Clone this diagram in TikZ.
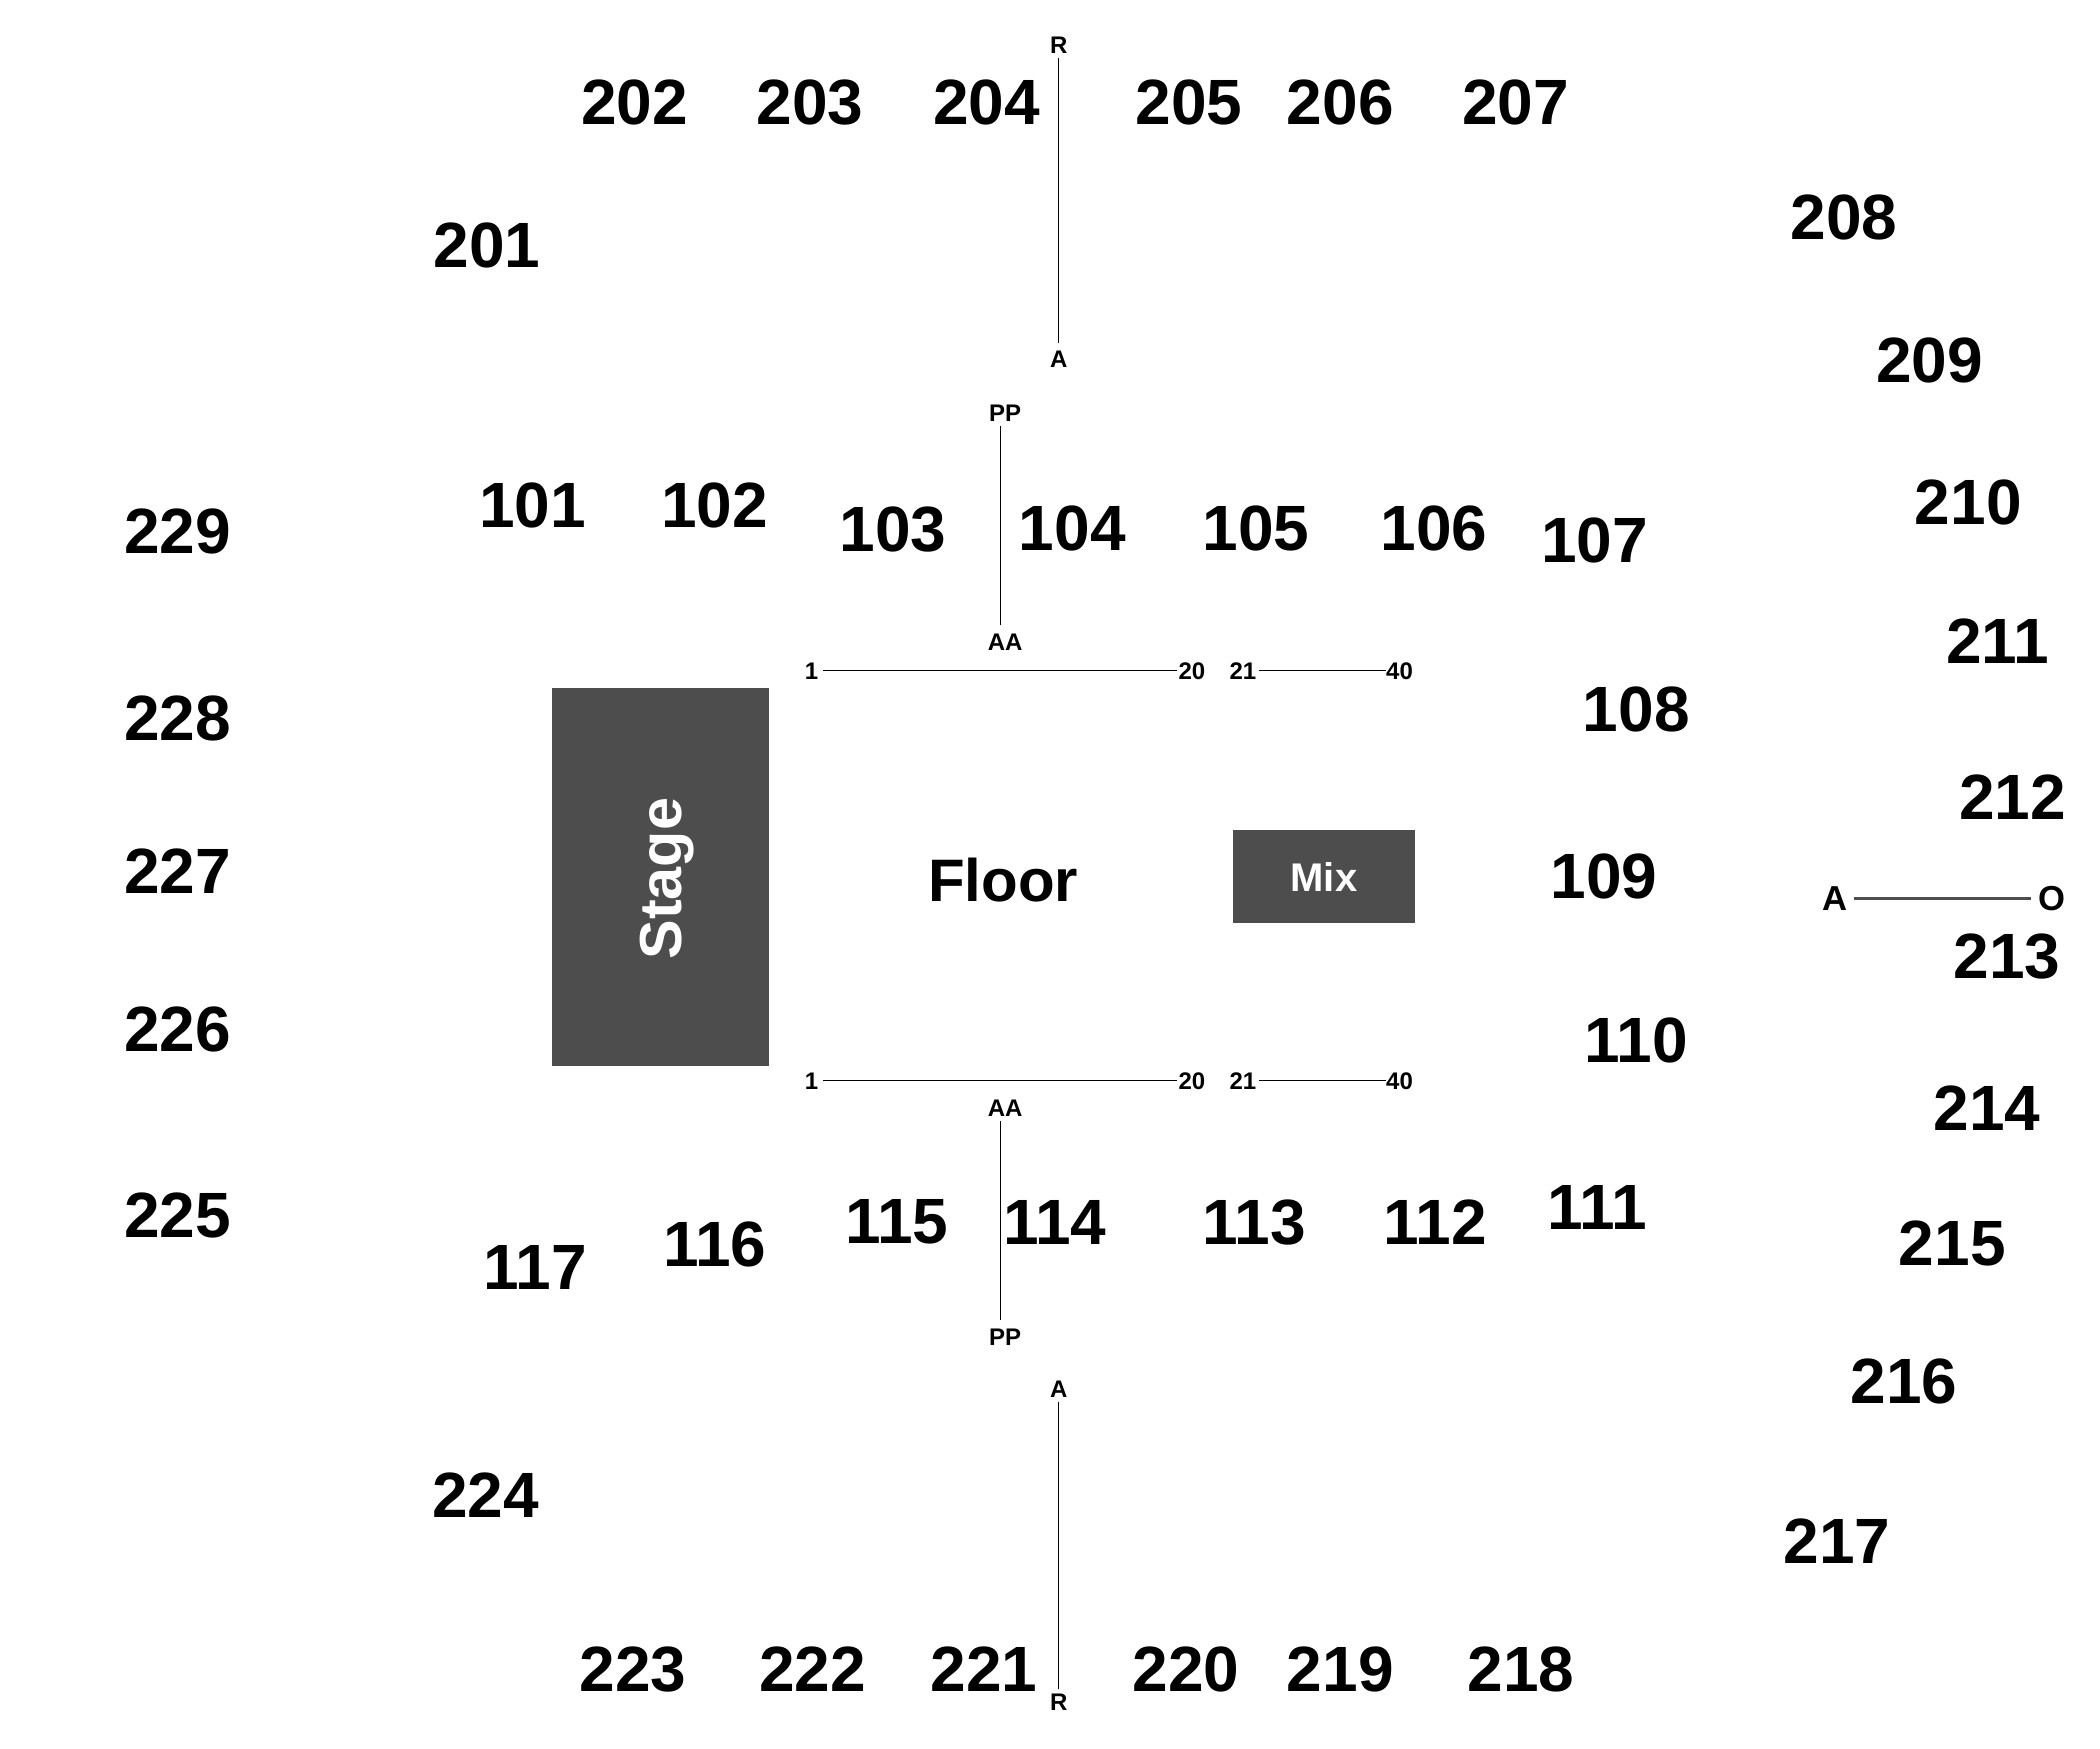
\documentclass[tikz,border=0pt]{standalone}
\usepackage{fontspec}
\setmainfont{Liberation Sans}
\definecolor{blockgrey}{HTML}{4D4D4D}
\tikzset{
  x=1.00446pt,y=-1.00446pt,
  sec/.style={font=\fontsize{48}{48}\selectfont\bfseries,inner sep=0pt,outer sep=0pt,text=black,xshift=0.7pt,yshift=0.5pt},
  small/.style={font=\fontsize{18}{18}\selectfont\bfseries,inner sep=3.4pt,outer sep=0pt,text=black},
  mid/.style={font=\fontsize{26}{26}\selectfont\bfseries,inner sep=5pt,outer sep=0pt,text=black},
  thinline/.style={draw=black,line width=0.75pt},
  greyline/.style={draw=blockgrey,line width=1.8pt},
  block/.style={fill=blockgrey,draw=none,inner sep=0pt,outer sep=0pt,anchor=north west}
}
\begin{document}
\begin{tikzpicture}
\useasboundingbox (0,0) rectangle (1568,1305.2);
\fill[white] (0,0) rectangle (1568,1305.2);
% section numbers
\foreach \px/\py/\t in {
 473/77/202,604/77/203,736/77/204,887/77/205,1000/77/206,1131/77/207,
 363/184/201,1376/163/208,1440/270/209,1469/376/210,1491/479/211,1502/596/212,
 1498/715/213,1483/828/214,1457/929/215,1421/1032/216,1371/1151/217,
 1135/1247/218,1000/1247/219,885/1247/220,734/1247/221,606/1247/222,472/1247/223,
 362/1117/224,132/908/225,132/769/226,132/651/227,132/537/228,132/397/229,
 397/378/101,533/378/102,666/396/103,800/395/104,937/395/105,1070/395/106,1190/404/107,
 1221/530/108,1197/655/109,1221/777/110,1192/902/111,1071/913/112,936/913/113,
 787/913/114,669/913/115,533/930/116,399/947/117}
 {\node[sec] (s\t) at (\px,\py) {\t};}
% blocks
\node[block,minimum width=162.7pt,minimum height=283.3pt] (stage) at (412,514) {};
\node[block,minimum width=136.2pt,minimum height=69.3pt] (mix) at (921,620) {};
\node[font=\fontsize{44.5}{44.5}\selectfont\bfseries,text=white,rotate=90,inner sep=0pt] (stagetxt) at (498,656) {Stage};
\node[font=\fontsize{30}{30}\selectfont\bfseries,text=white,inner sep=0pt] (mixtxt) at (988.5,655) {Mix};
\node[font=\fontsize{45}{45}\selectfont\bfseries,text=black,inner sep=0pt] (floor) at (749,657) {Floor};
% seat and row markers
\node[small] (r1) at (790.5,34) {R};
\node[small] (a1) at (790.5,268) {A};
\draw[thinline,shorten >=2pt] (r1) -- (a1);
\node[small] (a2) at (790.5,1037) {A};
\node[small] (r2) at (790.5,1271) {R};
\draw[thinline] (a2) -- (r2);
\node[small] (pp1) at (750.5,308.5) {PP};
\node[small] (aa1) at (750.5,479.5) {AA};
\draw[thinline,shorten >=3.5pt] ([xshift=-3.5pt]pp1.south) -- ([xshift=-3.5pt]aa1.north);
\node[small] (aa2) at (750.5,827.5) {AA};
\node[small] (pp2) at (750.5,998.5) {PP};
\draw[thinline,shorten >=3.5pt] ([xshift=-3.5pt]aa2.south) -- ([xshift=-3.5pt]pp2.north);
\foreach \ry/\k in {501/t,807/b}{
  \node[small] (\k n1) at (606,\ry) {1};
  \node[small] (\k n20) at (890,\ry) {20};
  \node[small] (\k n21) at (928,\ry) {21};
  \node[small] (\k n40) at (1045,\ry) {40};
  \draw[thinline,shorten >=-2pt] (\k n1) -- (\k n20);
  \draw[thinline,shorten <=-1pt,shorten >=-3pt] (\k n21) -- (\k n40);
}
\node[mid] (ma) at (1370,670.8) {A};
\node[mid,inner sep=2pt] (mo) at (1532,670.8) {O};
\draw[greyline,shorten >=3.5pt] (ma) -- (mo);
\end{tikzpicture}
\end{document}
